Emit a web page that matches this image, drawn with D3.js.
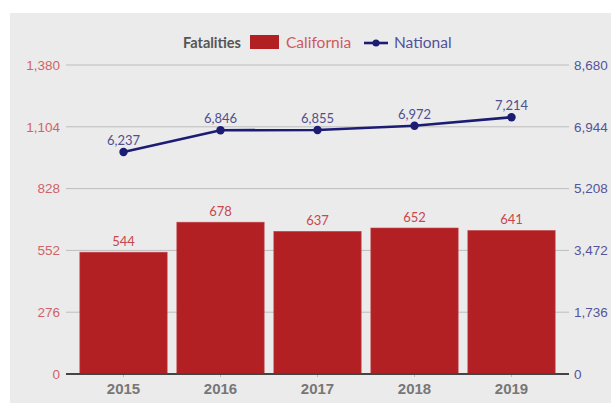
<!DOCTYPE html>
<html><head><meta charset="utf-8">
<script src="https://cdn.jsdelivr.net/npm/d3@7"></script>
<style>
html,body{margin:0;padding:0;background:#fff;}
svg{display:block;font-family:"Lato","Open Sans",sans-serif;}
</style></head>
<body>
<svg id="chart" width="611" height="403"></svg>
<script>
const years = ["2015","2016","2017","2018","2019"];
const california = [544, 678, 637, 652, 641];
const national = [6237, 6846, 6855, 6972, 7214];
const leftTicks = [0, 276, 552, 828, 1104, 1380];
const rightTicks = [0, 1736, 3472, 5208, 6944, 8680];

(function(){
const svg = d3.select("#chart");
svg.append("rect").attr("x",10).attr("y",13).attr("width",601).attr("height",390).attr("fill","#ebebeb");

const plotTop = 65, plotBottom = 374, gridL = 66, gridR = 569;
const yL = d3.scaleLinear().domain([0,1380]).range([plotBottom, plotTop]);
const yR = d3.scaleLinear().domain([0,8680]).range([plotBottom, plotTop]);
const x = d3.scaleBand().domain(years).range([75, 560]).paddingInner(0.1).paddingOuter(0.05);
const fmt = d3.format(",");

// gridlines
svg.append("g").selectAll("line").data(leftTicks.slice(1)).join("line")
  .attr("x1",gridL).attr("x2",gridR).attr("y1",d=>yL(d)).attr("y2",d=>yL(d))
  .attr("stroke","#bdbdbd").attr("stroke-width",1);

// left axis
const la = svg.append("g").attr("transform",`translate(${gridL},0)`)
  .call(d3.axisLeft(yL).tickValues(leftTicks).tickSize(0).tickPadding(6).tickFormat(fmt));
la.select(".domain").remove();
la.selectAll("text").attr("fill","#d0636a").attr("font-size",13.5);

// right axis
const ra = svg.append("g").attr("transform",`translate(${gridR},0)`)
  .call(d3.axisRight(yR).tickValues(rightTicks).tickSize(0).tickPadding(5).tickFormat(fmt));
ra.select(".domain").remove();
ra.selectAll("text").attr("fill","#54549a").attr("font-size",13.5);

// bars
svg.append("g").selectAll("rect").data(california).join("rect")
  .attr("x",(d,i)=>x(years[i])).attr("width",x.bandwidth())
  .attr("y",d=>yL(d)).attr("height",d=>yL(0)-yL(d))
  .attr("fill","#b22024").attr("stroke","#c0444a").attr("stroke-width",0.6);

svg.append("g").selectAll("text").data(california).join("text")
  .attr("x",(d,i)=>x(years[i])+x.bandwidth()/2).attr("y",d=>yL(d)-6)
  .attr("text-anchor","middle").attr("font-size",13).attr("fill","#c9464c")
  .text(d=>fmt(d));

// x axis
const xa = svg.append("g").attr("transform",`translate(0,${plotBottom})`)
  .call(d3.axisBottom(x).tickSize(3).tickPadding(6));
xa.select(".domain").remove();
xa.selectAll(".tick line").attr("stroke","#bbb");
xa.selectAll("text").attr("fill","#777").attr("font-size",15).attr("font-weight","bold");
svg.append("line").attr("x1",gridL).attr("x2",gridR).attr("y1",plotBottom).attr("y2",plotBottom)
  .attr("stroke","#444").attr("stroke-width",2.2);

// line
const cx = (i)=>x(years[i])+x.bandwidth()/2;
const line = d3.line().x((d,i)=>cx(i)).y(d=>yR(d));
svg.append("path").datum(national).attr("d",line).attr("fill","none")
  .attr("stroke","#1c1c74").attr("stroke-width",2.6);
svg.append("g").selectAll("circle").data(national).join("circle")
  .attr("cx",(d,i)=>cx(i)).attr("cy",d=>yR(d)).attr("r",4.2).attr("fill","#1c1c74");
svg.append("g").selectAll("text").data(national).join("text")
  .attr("x",(d,i)=>cx(i)).attr("y",d=>yR(d)-7)
  .attr("text-anchor","middle").attr("font-size",13).attr("fill","#4f4f8f")
  .text(d=>fmt(d));

// legend
const lg = svg.append("g");
lg.append("text").attr("x",183).attr("y",48).attr("font-size",14.5).attr("font-weight","bold")
  .attr("fill","#555").text("Fatalities");
lg.append("rect").attr("x",250).attr("y",35).attr("width",29).attr("height",14).attr("fill","#b22024");
lg.append("text").attr("x",286).attr("y",48).attr("font-size",15.5).attr("fill","#cc5a60").text("California");
lg.append("line").attr("x1",364).attr("x2",388).attr("y1",43).attr("y2",43).attr("stroke","#1c1c74").attr("stroke-width",2.6);
lg.append("circle").attr("cx",376).attr("cy",43).attr("r",3.5).attr("fill","#1c1c74");
lg.append("text").attr("x",394).attr("y",48).attr("font-size",15.5).attr("fill","#52529a").text("National");
})();
</script>
</body></html>
